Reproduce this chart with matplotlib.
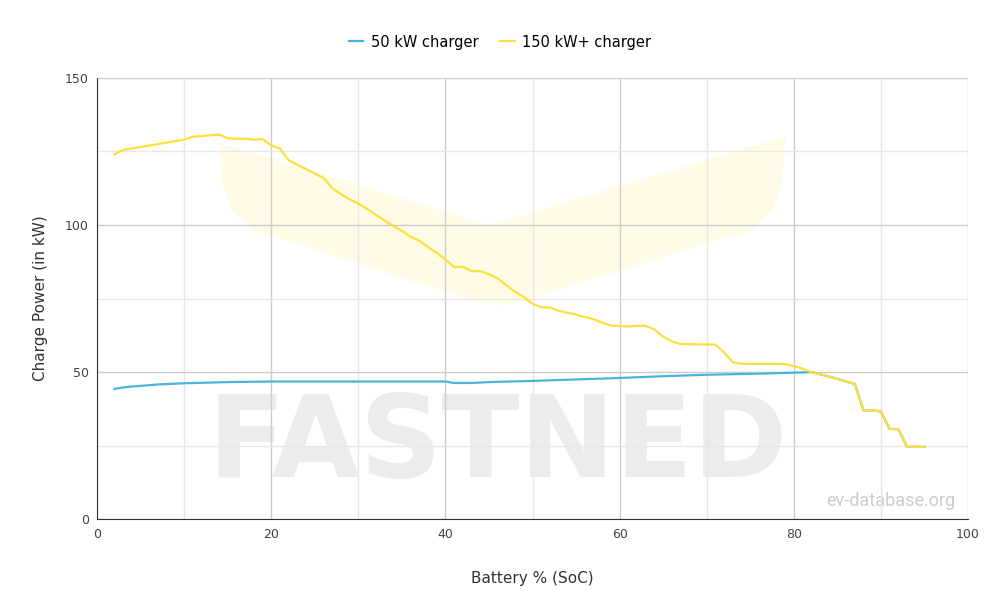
import matplotlib
matplotlib.use("Agg")
import matplotlib.pyplot as plt
from matplotlib.patches import Polygon
import numpy as np

soc_y = list(range(2, 96))
p150 = [124,125.5,126,126.5,127,127.5,128,128.5,129,130,130.2,130.5,130.7,129.5,129.3,129.3,129,129.2,127,126,122,120.5,119,117.5,116,112.5,110.5,108.7,107.3,105.5,103.5,101.5,99.7,98,96,94.7,92.5,90.5,88.3,85.7,85.8,84.3,84.3,83.3,81.8,79.5,77.3,75.5,73.3,72,72,70.8,70.2,69.5,68.7,68,66.8,65.8,65.7,65.5,65.7,65.7,64.5,62,60.5,59.5,59.5,59.4,59.4,59.3,56.7,53.3,52.8,52.8,52.8,52.8,52.8,52.7,52,51.2,50,49.3,48.5,47.7,46.8,46,37,37,36.6,30.7,30.6,24.6,24.6,24.6]
soc_b = [2,3,4,5,7,10,15,20,30,40,41,43,45,50,55,60,65,70,75,80,82,83,84,85,86,87,88,89,90,91,92,93,94,95]
p50 = [44.3,44.8,45.1,45.3,45.8,46.2,46.6,46.8,46.8,46.8,46.3,46.3,46.6,47,47.5,48,48.6,49.1,49.4,49.8,50,49.3,48.5,47.7,46.8,46,37,37,36.6,30.7,30.6,24.6,24.6,24.6]

fig = plt.figure(figsize=(10, 6.13), dpi=100)
ax = fig.add_axes([0.097, 0.153, 0.871, 0.72])
ax.set_xlim(0, 100); ax.set_ylim(0, 150)
ax.set_xticks(range(0, 101, 20)); ax.set_yticks(range(0, 151, 50))
ax.set_xticks(range(10, 100, 20), minor=True); ax.set_yticks([25, 75, 125], minor=True)
ax.grid(which='major', color='#cccccc', lw=1)
ax.grid(which='minor', color='#e8e8e8', lw=1)
ax.tick_params(which='both', length=0, labelsize=9, colors='#444444', pad=6)
for s in ['top', 'right']: ax.spines[s].set_visible(False)
ax.spines['left'].set_color('#333333'); ax.spines['bottom'].set_color('#333333')

# watermark (decorative), in axes fractions
def f(x, y): return [x/100, y/150]
pts = [f(14,128), f(14.3,115), f(15.5,105), f(18,98), f(21,95.5), f(44,73.5), f(46,73), f(48,73.5),
       f(72,95.5), f(75,98), f(77.5,105), f(78.7,115), f(79,130), f(45,100)]
ax.add_patch(Polygon(pts, closed=True, transform=ax.transAxes, fc='#fffbe6', ec='none', zorder=0))
ax.text(0.46, 0.168, 'FASTNED', transform=ax.transAxes, ha='center', va='center', fontsize=82,
        fontweight='bold', color='#ececec', family='DejaVu Sans', zorder=0)
ax.text(0.985, 0.02, 'ev-database.org', transform=ax.transAxes, ha='right', va='bottom',
        fontsize=13, color='#cccccc', family='Roboto', zorder=1)

ax.plot(soc_b, p50, color='#4ab3dc', lw=1.6, label='50 kW charger', zorder=3)
ax.plot(soc_y, p150, color='#fde03a', lw=1.6, label='150 kW+ charger', zorder=3)
ax.set_xlabel('Battery % (SoC)', fontsize=11, color='#333333', labelpad=22)
ax.set_ylabel('Charge Power (in kW)', fontsize=11, color='#333333', labelpad=12)
fig.legend(loc='upper center', bbox_to_anchor=(0.5, 0.965), ncol=2, frameon=False, fontsize=10.5,
           handlelength=1, handletextpad=0.5, columnspacing=1.5)
fig.savefig('out.png')
